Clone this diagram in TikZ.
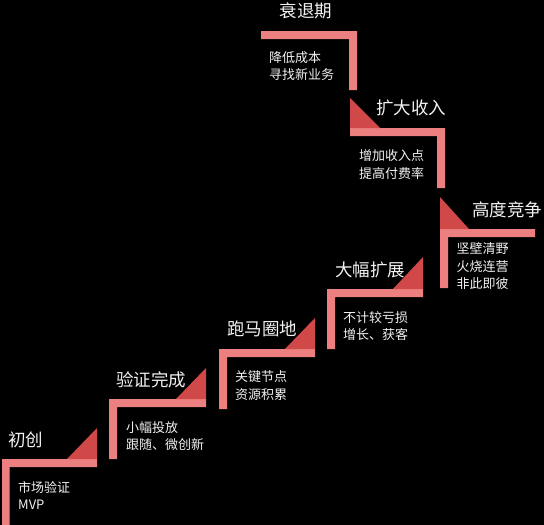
\documentclass[tikz,border=0pt]{standalone}
\usepackage{fontspec}
\setmainfont{Noto Sans CJK SC}
\definecolor{barpink}{HTML}{EC8080}
\definecolor{trired}{HTML}{D04848}
\definecolor{txtwhite}{HTML}{F2F2F2}

\begin{document}
\begin{tikzpicture}[x=1pt, y=-1pt,
    bar/.style={fill=barpink},
    tri/.style={fill=trired},
    stagetitle/.style={text=txtwhite, inner sep=0pt, font=\fontsize{17.5}{20}\selectfont},
    stagedesc/.style={text=txtwhite, inner sep=0pt, anchor=north west, align=left,
      font=\fontsize{13}{17.5}\selectfont}]
      \useasboundingbox[fill=black] (0,0) rectangle (544,525);
      % Stage 1
      \fill[bar] (2,459) -- (97,459) -- (97,467) -- (9.5,467) -- (9.5,525) -- (2,525) -- cycle;
      \fill[tri] (67,459) -- (97,459) -- (97,428) -- cycle;
      \node[stagetitle] (t1) at (26,440) {初创};
      \node[stagedesc] (d1) at (18,481) {市场验证\\MVP};
      % Stage 2
      \fill[bar] (109,399) -- (206,399) -- (206,407) -- (117,407) -- (117,459) -- (109,459) -- cycle;
      \fill[tri] (176,399) -- (206,399) -- (206,368) -- cycle;
      \node[stagetitle] (t2) at (151,380) {验证完成};
      \node[stagedesc] (d2) at (126,421) {小幅投放\\跟随、微创新};
      % Stage 3
      \fill[bar] (219,349) -- (315,349) -- (315,357) -- (227,357) -- (227,409) -- (219,409) -- cycle;
      \fill[tri] (285,349) -- (315,349) -- (315,318) -- cycle;
      \node[stagetitle] (t3) at (262,329) {跑马圈地};
      \node[stagedesc] (d3) at (235,370.5) {关键节点\\资源积累};
      % Stage 4
      \fill[bar] (327,289) -- (423,289) -- (423,297) -- (335,297) -- (335,349) -- (327,349) -- cycle;
      \fill[tri] (393,289) -- (423,289) -- (423,257) -- cycle;
      \node[stagetitle] (t4) at (370,270) {大幅扩展};
      \node[stagedesc] (d4) at (343,311) {不计较亏损\\增长、获客};
      % Stage 5
      \fill[bar] (440,229) -- (535,229) -- (535,237) -- (448,237) -- (448,288) -- (440,288) -- cycle;
      \fill[tri] (440,197) -- (440,229) -- (469,229) -- cycle;
      \node[stagetitle] (t5) at (507,210) {高度竞争};
      \node[stagedesc] (d5) at (456.5,242.5) {坚壁清野\\火烧连营\\非此即彼};
      % Stage 6
      \fill[bar] (350,128) -- (445,128) -- (445,188) -- (437,188) -- (437,136) -- (350,136) -- cycle;
      \fill[tri] (350,98) -- (350,128) -- (380,128) -- cycle;
      \node[stagetitle] (t6) at (411,108) {扩大收入};
      \node[stagedesc] (d6) at (359,149.5) {增加收入点\\提高付费率};
      % Stage 7
      \fill[bar] (261,31) -- (357,31) -- (357,90) -- (349,90) -- (349,39) -- (261,39) -- cycle;
      \node[stagetitle] (t7) at (306,11) {衰退期};
      \node[stagedesc] (d7) at (269,51) {降低成本\\寻找新业务};
\end{tikzpicture}
\end{document}
